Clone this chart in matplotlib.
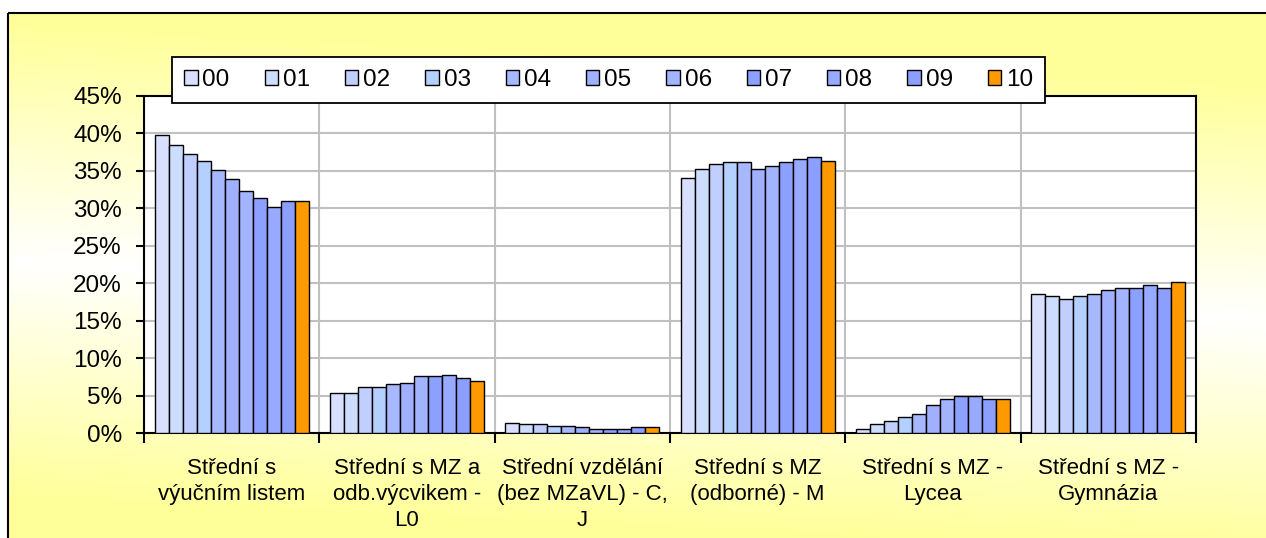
import numpy as np
import matplotlib
matplotlib.use("Agg")
import matplotlib.pyplot as plt
from matplotlib.patches import Rectangle, Patch
from matplotlib.ticker import FuncFormatter

plt.rcParams["font.family"] = ["Liberation Sans", "DejaVu Sans"]

# school years 2000..2010, share of pupils per type of secondary school (%)
years = ["00", "01", "02", "03", "04", "05", "06", "07", "08", "09", "10"]
categories = ["Střední s\nvýučním listem",
              "Střední s MZ a\nodb.výcvikem -\nL0",
              "Střední vzdělání\n(bez MZaVL) - C,\nJ",
              "Střední s MZ\n(odborné) - M",
              "Střední s MZ -\nLycea",
              "Střední s MZ -\nGymnázia"]
vyucni = [39.8, 38.4, 37.2, 36.3, 35.1, 33.9, 32.3, 31.4, 30.2, 31.0, 31.0]
odb_vycvik = [5.3, 5.3, 6.1, 6.1, 6.5, 6.7, 7.6, 7.6, 7.8, 7.4, 6.9]
bez_mz = [1.4, 1.2, 1.2, 1.0, 1.0, 0.8, 0.6, 0.6, 0.6, 0.8, 0.8]
odborne = [34.1, 35.3, 35.9, 36.2, 36.2, 35.3, 35.7, 36.2, 36.6, 36.8, 36.3]
lycea = [0.5, 1.2, 1.6, 2.2, 2.6, 3.8, 4.5, 4.9, 4.9, 4.5, 4.5]
gymnazia = [18.5, 18.3, 17.9, 18.3, 18.5, 19.1, 19.3, 19.3, 19.7, 19.3, 20.1]

colors = ["#D9E0FF", "#CCDDFF", "#C0CFFF", "#B3D0FF", "#A8B8FF", "#A0B0FF",
          "#A3B4FF", "#8CA0FF", "#97AAFF", "#8C9FFF", "#FF9900"]

data = np.array([vyucni, odb_vycvik, bez_mz, odborne, lycea, gymnazia]).T

W, H = 1266, 538
fig = plt.figure(figsize=(W / 100, H / 100), dpi=100)

# yellow-white-yellow diagonal gradient chart background with frame
bg = fig.add_axes([0, 0, 1, 1], zorder=-10)
bg.axis("off")
yy, xx = np.mgrid[0:H, 0:W]
mid = 260 + 60 * xx / W
wt = np.clip(1 - np.abs(yy - mid) / 240, 0, 1)[..., None]
yellow = np.array([1.0, 1.0, 0x99 / 255])
img = yellow * (1 - wt) + np.ones(3) * wt
img[(yy < 13) | (xx < 8)] = 1.0
bg.imshow(img, extent=(0, W, H, 0), aspect="auto")
bg.set_xlim(0, W); bg.set_ylim(H, 0)
bg.add_patch(Rectangle((8, 13), W, H, fill=False, ec="black", lw=1.5))

ax = fig.add_axes([144 / W, 1 - 433 / H, (1196 - 144) / W, (433 - 96) / H])
ax.set_facecolor("white")
x = np.arange(len(categories))
bw = 0.08
for j, yr in enumerate(years):
    ax.bar(x + (j - 5) * bw, data[j], width=bw, color=colors[j],
           edgecolor="black", linewidth=1, label=yr, zorder=3)

ax.set_xlim(-0.5, len(categories) - 0.5)
ax.set_ylim(0, 45)
ax.set_yticks(np.arange(0, 46, 5))
ax.yaxis.set_major_formatter(FuncFormatter(lambda v, p: f"{v:.0f}%"))
ax.set_xticks(np.arange(-0.5, len(categories), 1))
ax.set_xticklabels([])
ax.set_xticks(x, minor=True)
ax.set_xticklabels(categories, minor=True)
for t in ax.get_xticklabels(minor=True):
    t.set_linespacing(1.3)
ax.tick_params(axis="x", which="minor", length=0, pad=18, labelsize=16)
ax.tick_params(axis="x", which="major", length=7, width=1.5, direction="out")
ax.tick_params(axis="y", length=6, width=1.5, pad=10, labelsize=17.5)
ax.grid(True, which="major", color="#C0C0C0", lw=1.5)
ax.set_axisbelow(True)
for s in ax.spines.values():
    s.set_linewidth(1.5); s.set_color("black")

handles = [Patch(facecolor=c, edgecolor="black", linewidth=1) for c in colors]
leg = fig.legend(handles, years, loc="upper left", bbox_to_anchor=(172 / W, 1 - 57 / H),
                 ncol=len(years), fontsize=17.5, frameon=True, fancybox=False,
                 edgecolor="black", framealpha=1, borderaxespad=0, borderpad=0.5,
                 handlelength=0.55, handleheight=0.55, handletextpad=0.2, columnspacing=1.44)
leg.get_frame().set_linewidth(1.3)

fig.savefig("out.png", dpi=100)
